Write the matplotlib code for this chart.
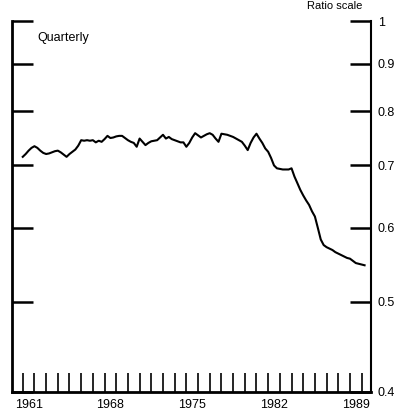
import numpy as np
import matplotlib.pyplot as plt
from matplotlib.ticker import FixedLocator, NullFormatter, NullLocator

plt.rcParams['font.family'] = ['Liberation Sans', 'DejaVu Sans']

# quarterly ratio, 1961Q1 .. 1990Q2
ratio = [
    0.715, 0.720, 0.726, 0.731,
    0.734, 0.731, 0.726, 0.722,
    0.720, 0.721, 0.723, 0.725,
    0.726, 0.723, 0.719, 0.715,
    0.720, 0.724, 0.728, 0.735,
    0.745, 0.744, 0.745, 0.744,
    0.745, 0.741, 0.744, 0.742,
    0.747, 0.753, 0.749, 0.750,
    0.752, 0.753, 0.753, 0.749,
    0.745, 0.742, 0.740, 0.733,
    0.748, 0.742, 0.736, 0.740,
    0.743, 0.744, 0.745, 0.750,
    0.755, 0.748, 0.751, 0.747,
    0.745, 0.743, 0.741, 0.741,
    0.733, 0.740, 0.750, 0.758,
    0.754, 0.750, 0.753, 0.756,
    0.758, 0.755, 0.748, 0.742,
    0.757, 0.756, 0.755, 0.753,
    0.751, 0.748, 0.745, 0.742,
    0.735, 0.727, 0.740, 0.750,
    0.757, 0.748, 0.740, 0.730,
    0.724, 0.713, 0.700, 0.695,
    0.694, 0.693, 0.693, 0.693,
    0.695, 0.681, 0.670, 0.659,
    0.650, 0.642, 0.635, 0.625,
    0.617, 0.600, 0.583, 0.575,
    0.572, 0.570, 0.568, 0.565,
    0.563, 0.561, 0.559, 0.557,
    0.556, 0.553, 0.550, 0.549,
    0.548, 0.547,
]
dates = 1961 + np.arange(len(ratio)) / 4

year_ticks = list(range(1961, 1991))
year_labels = ["1961", "1968", "1975", "1982", "1989"]
y_ticks = [0.4, 0.5, 0.6, 0.7, 0.8, 0.9, 1.0]
y_labels = ["0.4", "0.5", "0.6", "0.7", "0.8", "0.9", "1"]

fig = plt.figure(figsize=(4.06, 4.18), dpi=100)
ax = fig.add_axes([12 / 406, 26 / 418, 359 / 406, 371 / 418])

ax.plot(dates, ratio, color="black", lw=1.5)

ax.set_yscale("log")
ax.set_ylim(0.4, 1.0)
ax.set_xlim(1960.08, 1990.8)

ax.spines["top"].set_visible(False)
for s in ["left", "bottom"]:
    ax.spines[s].set_linewidth(2)
ax.spines["right"].set_linewidth(1.5)

# y axis: ticks on both sides pointing in, labels on the right
ax.yaxis.set_major_locator(FixedLocator(y_ticks))
ax.yaxis.set_minor_locator(NullLocator())
ax.set_yticklabels(y_labels)
ax.yaxis.set_minor_formatter(NullFormatter())
ax.tick_params(axis="y", which="major", direction="in", length=15, width=1.8,
               left=True, right=True, labelleft=False, labelright=True,
               labelsize=9, pad=5)

# x axis: a tick each year, labels centred in the year
ax.xaxis.set_major_locator(FixedLocator(year_ticks))
ax.xaxis.set_major_formatter(NullFormatter())
ax.tick_params(axis="x", which="major", direction="in", length=14, width=1.2)
ax.set_xticks([int(y) + 0.5 for y in year_labels], year_labels, minor=True)
ax.tick_params(axis="x", which="minor", length=0, labelsize=9, pad=5)

ax.text(0.07, 0.955, "Quarterly", transform=ax.transAxes, fontsize=9,
        ha="left", va="center")
fig.text(335 / 406, 1 - 6 / 418, "Ratio scale", fontsize=8, ha="center",
         va="center")

fig.savefig("out.png", dpi=100)
